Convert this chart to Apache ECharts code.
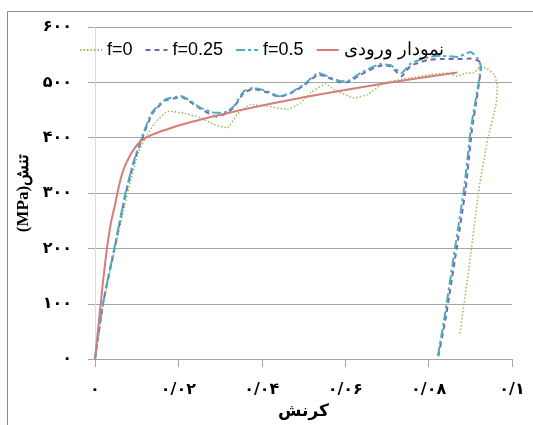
<!DOCTYPE html>
<html lang="fa">
<head>
  <meta charset="UTF-8">
  <script src="https://cdn.jsdelivr.net/npm/echarts@6.0.0/dist/echarts.min.js"></script>
  <style>
    html, body { margin: 0; padding: 0; background: #fff; }
  </style>
</head>
<body>
  <div id="stressStrainChart" style="width: 533px;height:425px;"></div>

  <script type="text/javascript">

    var seriesNames = ['f=0', 'f=0.25', 'f=0.5', 'نمودار ورودی'];

    var strainF0 = [0, 0.002, 0.0048, 0.0078, 0.0104, 0.0125, 0.0144, 0.0176, 0.0215, 0.0253, 0.0285, 0.0317, 0.0341, 0.0373, 0.0413, 0.0461, 0.0493, 0.0517, 0.0553, 0.0573, 0.0621, 0.0653, 0.0693, 0.0757, 0.0805, 0.0845, 0.0869, 0.0893, 0.0909, 0.0921, 0.0937, 0.0957, 0.0965, 0.0961, 0.0942, 0.0921, 0.0901, 0.0885, 0.0875];
    var stressF0 = [0, 100, 200, 300, 374, 405, 427, 448, 444, 436, 424, 418, 442, 460, 457, 451, 463, 481, 497, 487, 472, 478, 499, 508, 514, 517, 511, 517, 517, 527, 526, 514, 493, 457, 398, 308, 189, 100, 46];

    var strainF025 = [0, 0.0019, 0.0047, 0.0074, 0.0093, 0.0109, 0.0137, 0.0168, 0.0208, 0.0253, 0.0292, 0.0312, 0.0333, 0.0357, 0.038, 0.0413, 0.0441, 0.0469, 0.05, 0.0537, 0.0557, 0.0589, 0.0605, 0.0637, 0.0685, 0.0709, 0.0735, 0.0757, 0.0797, 0.0829, 0.0869, 0.0901, 0.0921, 0.0925, 0.0915, 0.0904, 0.0889, 0.0865, 0.084, 0.0822];
    var stressF025 = [0, 100, 200, 300, 355, 390, 443, 467, 473, 452, 438, 443, 455, 481, 488, 482, 474, 480, 494, 514, 509, 500, 500, 514, 530, 529, 511, 530, 540, 542, 542, 543, 538, 525, 469, 415, 308, 189, 70, 0];

    var strainF05 = [0, 0.0019, 0.0046, 0.0073, 0.0092, 0.0108, 0.0136, 0.0168, 0.0208, 0.0253, 0.0288, 0.0309, 0.0333, 0.0357, 0.038, 0.0413, 0.0441, 0.0469, 0.05, 0.0537, 0.0557, 0.0589, 0.0605, 0.0637, 0.0685, 0.0709, 0.0735, 0.0757, 0.0797, 0.0829, 0.0869, 0.0901, 0.0921, 0.0925, 0.0913, 0.0901, 0.0885, 0.0861, 0.0837, 0.0821];
    var stressF05 = [0, 100, 200, 300, 355, 392, 445, 469, 475, 454, 445, 445, 457, 484, 490, 484, 475, 481, 496, 517, 511, 502, 502, 517, 533, 531, 517, 534, 545, 548, 546, 555, 540, 528, 469, 415, 308, 189, 70, 0];

    var strainInput = [0, 0.0012, 0.0024, 0.0036, 0.0048, 0.0064, 0.008, 0.0096, 0.0112, 0.0136, 0.016, 0.0224, 0.0344, 0.0494, 0.0685, 0.0869];
    var stressInput = [0, 88, 171, 237, 279, 332, 362, 382, 395, 405, 412, 427, 449, 472, 497, 518];

    var persianDigits = ['۰', '۱', '۲', '۳', '۴', '۵', '۶', '۷', '۸', '۹'];

    function toPersian(v, decimals) {
      var s = decimals ? v.toFixed(decimals).replace(/0+$/, '').replace(/\.$/, '') : String(v);
      return s.replace(/[0-9]/g, function (d) { return persianDigits[+d]; }).replace('.', '/');
    }

    function pairs(xs, ys) {
      return xs.map(function (x, i) { return [x, ys[i]]; });
    }

    function createChart() {
      const chart = echarts.init(document.getElementById('stressStrainChart'));

      let option = {
        animation: false,
        backgroundColor: '#fff',
        graphic: [{
          type: 'rect',
          shape: { x: 7.5, y: 11.5, width: 560, height: 450 },
          style: { fill: 'none', stroke: '#8a8a8a', lineWidth: 1 }
        }],
        legend: {
          left: 74,
          top: 36,
          itemWidth: 22,
          itemHeight: 10,
          itemGap: 12,
          itemStyle: { opacity: 0 },
          textStyle: { fontFamily: 'Liberation Sans', fontSize: 18, color: '#000' },
          data: seriesNames
        },
        grid: { left: 95, right: 21, top: 27, bottom: 62 },
        xAxis: {
          type: 'value',
          min: 0,
          max: 0.1,
          interval: 0.02,
          name: 'کرنش',
          nameLocation: 'middle',
          nameGap: 36,
          nameTextStyle: { fontFamily: 'DejaVu Sans', fontWeight: 'bold', fontSize: 17, color: '#000' },
          axisLine: { lineStyle: { color: '#a6a6a6', width: 1 } },
          axisTick: { show: true, length: 8, lineStyle: { color: '#a6a6a6' } },
          axisLabel: {
            margin: 23,
            fontFamily: 'DejaVu Sans',
            fontWeight: 'bold',
            fontSize: 16,
            color: '#000',
            formatter: function (v) { return toPersian(v, 2); }
          },
          splitLine: { show: false }
        },
        yAxis: {
          type: 'value',
          min: 0,
          max: 600,
          interval: 100,
          name: '(MPa)تنش',
          nameLocation: 'middle',
          nameGap: 60,
          nameTextStyle: { fontFamily: 'Liberation Serif', fontWeight: 'bold', fontSize: 17, color: '#000' },
          axisLine: { show: true, lineStyle: { color: '#dadada', width: 1 } },
          axisTick: { show: true, length: 7, lineStyle: { color: '#a6a6a6' } },
          axisLabel: {
            margin: 23,
            fontFamily: 'DejaVu Sans',
            fontWeight: 'bold',
            fontSize: 16,
            color: '#000',
            formatter: function (v) { return toPersian(v); }
          },
          splitLine: { lineStyle: { color: '#a6a6a6', width: 1 } }
        },
        series: [
          {
            name: seriesNames[0],
            type: 'line',
            data: pairs(strainF0, stressF0),
            symbol: 'none',
            smooth: 0.15,
            lineStyle: { color: '#9bbb59', width: 1.5, type: [1.5, 2] },
            itemStyle: { color: '#9bbb59' }
          },
          {
            name: seriesNames[1],
            type: 'line',
            data: pairs(strainF025, stressF025),
            symbol: 'none',
            smooth: 0.15,
            lineStyle: { color: '#8064a2', width: 2, type: [5, 4] },
            itemStyle: { color: '#8064a2' }
          },
          {
            name: seriesNames[2],
            type: 'line',
            data: pairs(strainF05, stressF05),
            symbol: 'none',
            smooth: 0.15,
            lineStyle: { color: '#4bacc6', width: 2, type: [9, 3, 3, 3] },
            itemStyle: { color: '#4bacc6' }
          },
          {
            name: seriesNames[3],
            type: 'line',
            data: pairs(strainInput, stressInput),
            symbol: 'none',
            smooth: true,
            lineStyle: { color: '#d77c79', width: 2, type: 'solid' },
            itemStyle: { color: '#d77c79' }
          }
        ]
      };

      chart.setOption(option);
    }
    createChart();
  </script>
</body>
</html>
